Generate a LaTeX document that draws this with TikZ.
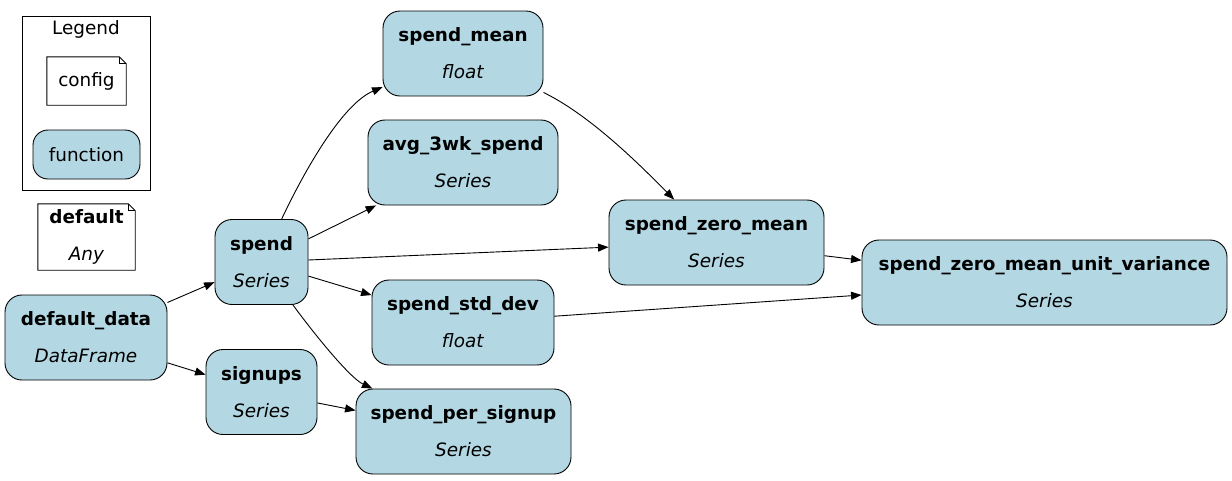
\documentclass[tikz,border=0pt]{standalone}
\usepackage{fontspec}
\setmainfont{DejaVu Sans}
\usetikzlibrary{arrows.meta}
\definecolor{fnblue}{HTML}{B3D8E3}
\begin{document}
\begin{tikzpicture}[x=1pt,y=-1pt,
  base/.style={font=\fontsize{18.4}{22}\selectfont},
  fn/.style={base, draw, line width=0.9pt, fill=fnblue, rounded corners=17pt,
    minimum height=85pt, inner sep=0pt, align=center},
  notebox/.style={base, draw=none, inner sep=0pt, align=center},
  edge/.style={line width=0.9pt, -{Triangle[length=10.5pt,width=8pt]}},
  outline/.style={line width=0.9pt}]
\fill[white] (0,0) rectangle (1232,480);
\useasboundingbox (0,0) rectangle (1232,480);

% Legend
\node[draw, line width=0.9pt, minimum width=128pt, minimum height=174pt, inner sep=0pt] (legend) at (86,103) {};
\node[base] (legendtitle) at (86,29.5) {Legend};
\node[notebox, minimum width=79pt, minimum height=48pt] (cfg) at (86.5,81) {config};
\node[fn, rounded corners=15pt, minimum width=107pt, minimum height=49pt] (func) at (86.5,154.5) {function};

% default note
\node[notebox, minimum width=97pt, minimum height=66pt] (default) at (86.5,237) {\textbf{default}\\[15pt]\textit{Any}};

\foreach \n in {cfg,default}{
  \draw[outline] (\n.south west) -- (\n.south east) -- ([yshift=-7pt]\n.north east)
    -- ([xshift=-7pt]\n.north east) -- (\n.north west) -- cycle;
  \draw[outline] ([xshift=-7pt]\n.north east) -- ([xshift=-7pt,yshift=-7pt]\n.north east)
    -- ([yshift=-7pt]\n.north east);
}

% function nodes
\node[fn, minimum width=162pt] (dd) at (86,337.5) {\textbf{default\_data}\\[15pt]\textit{DataFrame}};
\node[fn, minimum width=93pt] (spend) at (261.5,262) {\textbf{spend}\\[15pt]\textit{Series}};
\node[fn, minimum width=111pt] (signups) at (261.5,392) {\textbf{signups}\\[15pt]\textit{Series}};
\node[fn, minimum width=160pt] (smean) at (463,53.5) {\textbf{spend\_mean}\\[15pt]\textit{float}};
\node[fn, minimum width=190pt] (avg) at (463,162.5) {\textbf{avg\_3wk\_spend}\\[15pt]\textit{Series}};
\node[fn, minimum width=182pt] (std) at (463,322.5) {\textbf{spend\_std\_dev}\\[15pt]\textit{float}};
\node[fn, minimum width=215pt] (spu) at (463.5,431.5) {\textbf{spend\_per\_signup}\\[15pt]\textit{Series}};
\node[fn, minimum width=215pt] (szm) at (716.5,242.5) {\textbf{spend\_zero\_mean}\\[15pt]\textit{Series}};
\node[fn, minimum width=365pt] (szmuv) at (1044.5,282.5) {\textbf{spend\_zero\_mean\_unit\_variance}\\[15pt]\textit{Series}};

% edges
\draw[edge] (dd) -- (spend);
\draw[edge] (dd) -- (signups);
\draw[edge] (spend) .. controls (300,180) and (340,105) .. (smean);
\draw[edge] (spend) -- (avg);
\draw[edge] (spend) -- (szm);
\draw[edge] (spend) -- (std);
\draw[edge] (spend) .. controls (315,335) and (350,378) .. (spu);
\draw[edge] (signups) -- (spu);
\draw[edge] (smean) .. controls (590,115) and (640,165) .. (szm);
\draw[edge] (szm) -- (szmuv);
\draw[edge] (std) -- (szmuv);
\end{tikzpicture}
\end{document}
